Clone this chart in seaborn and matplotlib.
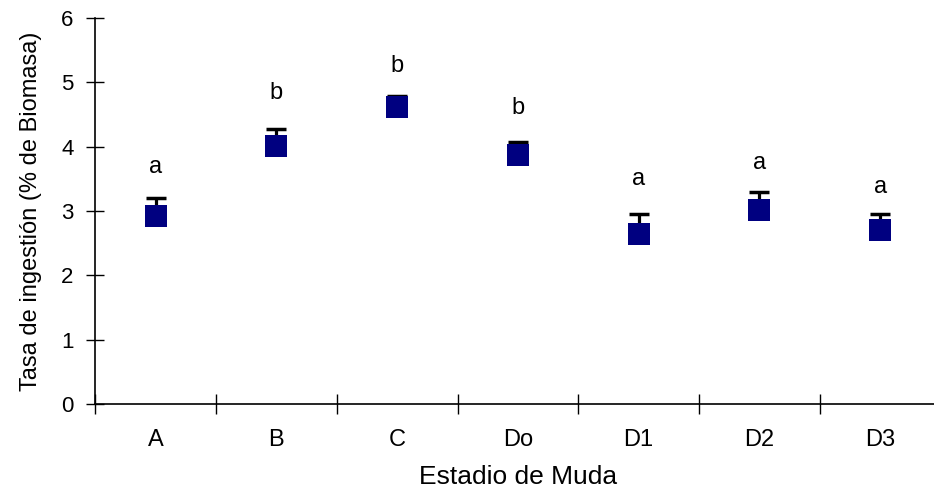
import numpy as np
import pandas as pd
import matplotlib
matplotlib.use("Agg")
import matplotlib.pyplot as plt
import seaborn as sns

# data
estadios = ["A", "B", "C", "Do", "D1", "D2", "D3"]
tasa = [2.92, 4.01, 4.62, 3.87, 2.64, 3.01, 2.70]
error = [0.28, 0.27, 0.16, 0.21, 0.31, 0.28, 0.26]
letras = ["a", "b", "b", "b", "a", "a", "a"]
letra_y = [3.69, 4.84, 5.26, 4.60, 3.50, 3.75, 3.37]

df = pd.DataFrame({"estadio": estadios, "tasa": tasa})

sns.set_style("ticks")
plt.rcParams["font.family"] = ["Liberation Sans", "DejaVu Sans"]
plt.rcParams["text.color"] = "black"

fig = plt.figure(figsize=(9.34, 4.93), dpi=100)
ax = fig.add_axes([0.102, 0.1805, 0.905, 0.783])

x = np.arange(len(estadios))
ax.errorbar(x, tasa, yerr=[np.zeros(len(error)), error], fmt="none",
            ecolor="black", elinewidth=2.3, capsize=7, capthick=2.5, zorder=2)
sns.scatterplot(data=df, x="estadio", y="tasa", marker="s", s=250,
                color="#000080", edgecolor="#000080", linewidth=0, ax=ax, zorder=3)

for xi, l, ly in zip(x, letras, letra_y):
    ax.text(xi, ly, l, ha="center", va="center", fontsize=17, color="black")

ax.set_xlim(-0.5, len(estadios) - 0.5)
ax.set_ylim(0, 6)
ax.set_yticks(range(7))
ax.set_xticks(np.arange(-0.5, len(estadios), 1.0))
ax.set_xticklabels([])
ax.set_xticks(x, minor=True)
ax.set_xticklabels(estadios, minor=True)
ax.tick_params(axis="x", which="major", direction="inout", length=14, width=1, colors="black")
ax.tick_params(axis="x", which="minor", length=0, pad=18, labelsize=17, labelcolor="black")
ax.tick_params(axis="y", direction="inout", length=13, width=1, labelsize=16, pad=9,
               colors="black")

sns.despine(ax=ax)
for s in ["left", "bottom"]:
    ax.spines[s].set_color("black")
    ax.spines[s].set_linewidth(1.2)

ax.set_xlabel("Estadio de Muda", fontsize=19, labelpad=10, color="black")
ax.set_ylabel("Tasa de ingestión (% de Biomasa)", fontsize=17, labelpad=14, color="black")

fig.savefig("out.png", dpi=100)
